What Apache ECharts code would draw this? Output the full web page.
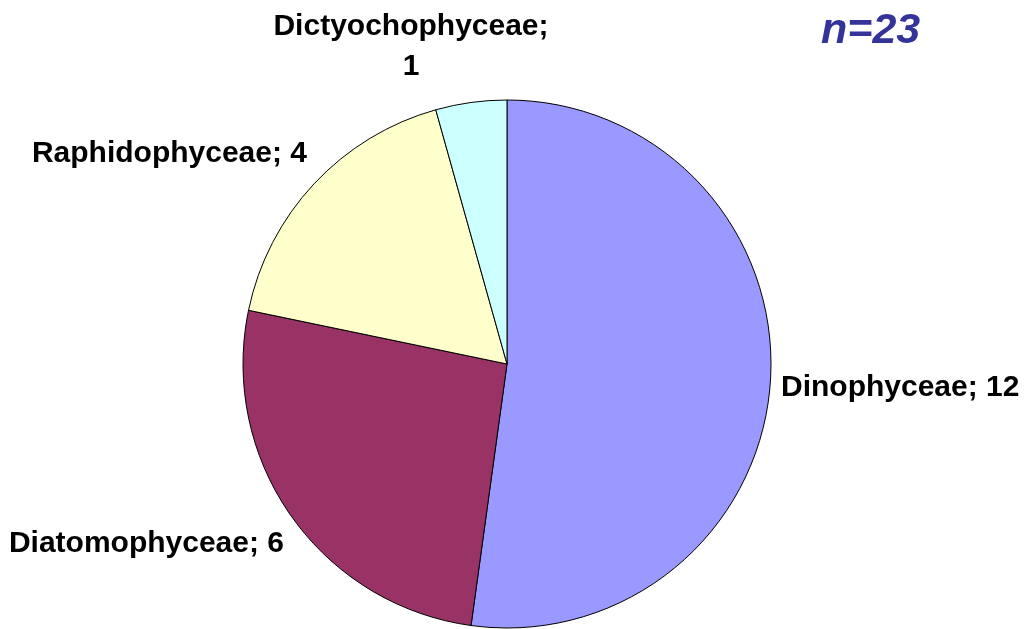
<!DOCTYPE html>
<html>
<head>
<meta charset="utf-8">
<script src="https://cdn.jsdelivr.net/npm/echarts@6/dist/echarts.min.js"></script>
<style>
html,body{margin:0;padding:0;background:#fff;}
#chart{width:1025px;height:629px;}
</style>
</head>
<body>
<div id="chart"></div>
<script>
// Data
const categories = ['Dinophyceae', 'Diatomophyceae', 'Raphidophyceae', 'Dictyochophyceae'];
const counts = [12, 6, 4, 1];
const sampleLabel = 'n=23';

// Styles / layout (kept separate from data)
const sliceColors = ['#9999FF', '#993366', '#FFFFCC', '#CCFFFF'];
const labelPlacement = [
  { x: 781, y: 388, align: 'left',   verticalAlign: 'middle' },
  { x: 284, y: 544, align: 'right',  verticalAlign: 'middle' },
  { x: 307, y: 154, align: 'right',  verticalAlign: 'middle' },
  { x: 411, y: 47,  align: 'center', verticalAlign: 'middle' }
];

const chart = echarts.init(document.getElementById('chart'), null, { renderer: 'canvas' });

const seriesData = categories.map((name, i) => ({
  name: name,
  value: counts[i],
  itemStyle: { color: sliceColors[i] },
  label: i === 3 ? { formatter: '{b};\n{c}' } : {}
}));

chart.setOption({
  animation: false,
  backgroundColor: '#ffffff',
  graphic: [{
    type: 'text',
    x: 821,
    y: 31,
    style: {
      text: sampleLabel,
      font: 'italic bold 43px "Liberation Sans", Arial, sans-serif',
      fill: '#333399',
      align: 'left',
      verticalAlign: 'middle'
    }
  }],
  series: [{
    type: 'pie',
    center: [507, 364],
    radius: 264,
    startAngle: 90,
    clockwise: true,
    avoidLabelOverlap: false,
    data: seriesData,
    itemStyle: { borderColor: '#000000', borderWidth: 1 },
    emphasis: { disabled: true },
    labelLine: { show: false },
    label: {
      show: true,
      position: 'outside',
      formatter: '{b}; {c}',
      color: '#000000',
      fontFamily: '"Liberation Sans", Arial, sans-serif',
      fontWeight: 'bold',
      fontSize: 30,
      lineHeight: 40
    },
    labelLayout: function (params) {
      const p = labelPlacement[params.dataIndex];
      return { x: p.x, y: p.y, align: p.align, verticalAlign: p.verticalAlign, hideOverlap: false };
    }
  }]
});
</script>
</body>
</html>
